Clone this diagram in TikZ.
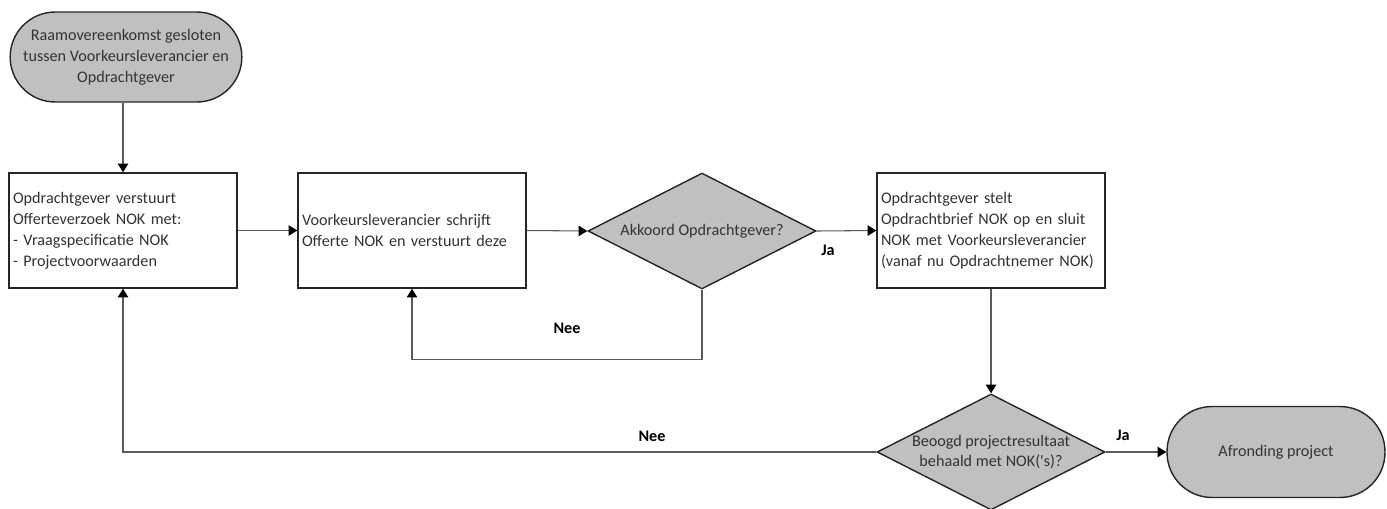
\documentclass[tikz,border=0pt]{standalone}
\usepackage{fontspec}
\setmainfont{Carlito}[Ligatures=TeXOff]
\usepackage{tikz}
\usetikzlibrary{shapes.geometric, arrows.meta, positioning, calc}
\definecolor{FlowGrey}{HTML}{C0C0C0}
\definecolor{FlowLine}{HTML}{5A5A5A}
\definecolor{FlowBorder}{HTML}{262626}
\definecolor{FlowText}{HTML}{333333}
\newcommand{\flowfont}{\fontsize{9.2}{11.9}\selectfont}
\tikzset{
    % Node styles
    termbox/.style={
        rectangle,
        draw=FlowBorder,
        fill=FlowGrey,
        line width=0.8pt,
        rounded corners=0.9cm,
        minimum width=4.5cm,
        minimum height=1.8cm,
        align=center,
        text=FlowText,
        font=\flowfont
    },
    stepbox/.style={
        rectangle,
        draw=FlowBorder,
        fill=white,
        line width=0.8pt,
        minimum width=4.56cm,
        minimum height=2.3cm,
        text width=4.4cm,
        inner xsep=0.08cm,
        align=left,
        text=FlowText,
        font=\flowfont
    },
    decision/.style={
        diamond,
        draw=FlowBorder,
        fill=FlowGrey,
        line width=0.8pt,
        aspect=1.97,
        minimum width=4.56cm,
        minimum height=2.32cm,
        inner sep=0pt,
        align=center,
        text=FlowText,
        font=\flowfont
    },
    % Arrow styles
    flowarrow/.style={
        -{Triangle[length=5pt,width=6pt,color=black]},
        line width=0.6pt,
        FlowLine
    },
    answer/.style={
        font=\flowfont\bfseries,
        text=black
    }
}
\begin{document}
\begin{tikzpicture}[x=0.02cm, y=-0.02cm]
    \useasboundingbox (0,0) rectangle (1387,508);

    % Start
    \node[termbox] (start) at (126,57) {\raisebox{-3pt}{\parbox{4.4cm}{\centering Raamovereenkomst gesloten\\tussen Voorkeursleverancier en\\Opdrachtgever}}};

    % Upper row
    \node[stepbox] (offerte) at (123,230.5) {Opdrachtgever verstuurt\\Offerteverzoek NOK met:\\- Vraagspecificatie NOK\\- Projectvoorwaarden};
    \node[stepbox] (schrijft) at (412,230.5) {Voorkeursleverancier schrijft\\Offerte NOK en verstuurt deze};
    \node[decision] (akkoord) at (702,231) {Akkoord Opdrachtgever?};
    \node[stepbox] (opdracht) at (991,230.5) {Opdrachtgever stelt\\Opdrachtbrief NOK op en sluit\\NOK met Voorkeursleverancier\\(vanaf nu Opdrachtnemer NOK)};

    % Lower row
    \node[decision] (beoogd) at (991,452) {Beoogd projectresultaat\\behaald met NOK('s)?};
    \node[termbox,minimum width=4.36cm,minimum height=1.82cm] (afronding) at (1276,452) {Afronding project};

    % Arrows
    \draw[flowarrow] (offerte.north |- start.south) -- (offerte.north);
    \draw[flowarrow] (offerte.east) -- (schrijft.west);
    \draw[flowarrow] (schrijft.east) -- (akkoord.west);
    \draw[flowarrow] (akkoord.east) -- (opdracht.west);
    \draw[flowarrow] (akkoord.south) -- ++(0,70) -| (schrijft.south);
    \draw[flowarrow] (opdracht.south) -- (beoogd.north);
    \draw[flowarrow] (beoogd.east) -- (afronding.west);
    \draw[flowarrow] (beoogd.west) -| (offerte.south);

    % Answers
    \node[answer] (ja1) at (828,250) {Ja};
    \node[answer] (nee1) at (567,328) {Nee};
    \node[answer] (ja2) at (1123,435) {Ja};
    \node[answer] (nee2) at (652,436) {Nee};
\end{tikzpicture}
\end{document}
